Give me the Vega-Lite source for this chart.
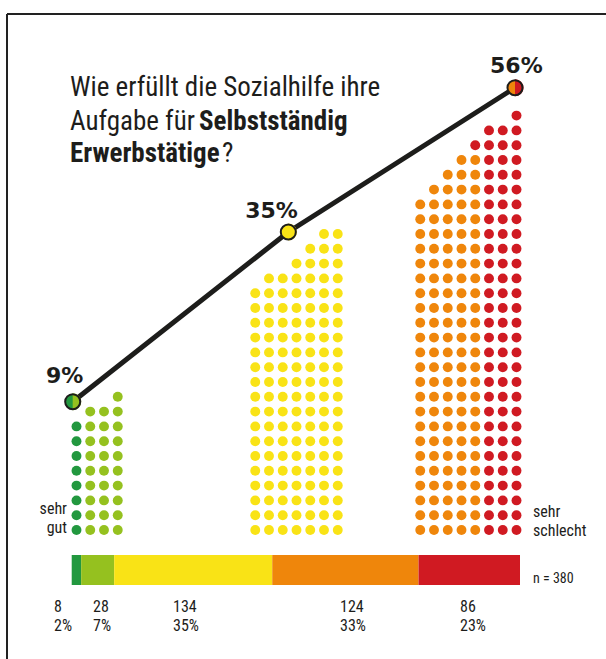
{
  "$schema": "https://vega.github.io/schema/vega-lite/v6.json",
  "width": 606,
  "height": 659,
  "padding": 0,
  "autosize": {"type": "none"},
  "background": "#ffffff",
  "config": {"view": {"stroke": null}, "font": "Liberation Sans Narrow, Roboto Condensed, DejaVu Sans Condensed, Roboto, Liberation Sans"},
  "datasets": {
    "dots": [
      {"g": "sehr gut", "c": 0, "r": [0,1,2,3,4,5,6,7]},
      {"g": "gut", "c": 1, "r": [0,1,2,3,4,5,6,7,8]},
      {"g": "gut", "c": 2, "r": [0,1,2,3,4,5,6,7,8]},
      {"g": "gut", "c": 3, "r": [0,1,2,3,4,5,6,7,8,9]},
      {"g": "neutral", "c": 13, "r": [0,1,2,3,4,5,6,7,8,9,10,11,12,13,14,15,16]},
      {"g": "neutral", "c": 14, "r": [0,1,2,3,4,5,6,7,8,9,10,11,12,13,14,15,16,17]},
      {"g": "neutral", "c": 15, "r": [0,1,2,3,4,5,6,7,8,9,10,11,12,13,14,15,16,17]},
      {"g": "neutral", "c": 16, "r": [0,1,2,3,4,5,6,7,8,9,10,11,12,13,14,15,16,17,18]},
      {"g": "neutral", "c": 17, "r": [0,1,2,3,4,5,6,7,8,9,10,11,12,13,14,15,16,17,18,19]},
      {"g": "neutral", "c": 18, "r": [0,1,2,3,4,5,6,7,8,9,10,11,12,13,14,15,16,17,18,19,20]},
      {"g": "neutral", "c": 19, "r": [0,1,2,3,4,5,6,7,8,9,10,11,12,13,14,15,16,17,18,19,20]},
      {"g": "schlecht", "c": 25, "r": [0,1,2,3,4,5,6,7,8,9,10,11,12,13,14,15,16,17,18,19,20,21,22]},
      {"g": "schlecht", "c": 26, "r": [0,1,2,3,4,5,6,7,8,9,10,11,12,13,14,15,16,17,18,19,20,21,22,23]},
      {"g": "schlecht", "c": 27, "r": [0,1,2,3,4,5,6,7,8,9,10,11,12,13,14,15,16,17,18,19,20,21,22,23,24]},
      {"g": "schlecht", "c": 28, "r": [0,1,2,3,4,5,6,7,8,9,10,11,12,13,14,15,16,17,18,19,20,21,22,23,24,25]},
      {"g": "schlecht", "c": 29, "r": [0,1,2,3,4,5,6,7,8,9,10,11,12,13,14,15,16,17,18,19,20,21,22,23,24,25]},
      {"g": "sehr schlecht", "c": 29, "r": [26]},
      {"g": "sehr schlecht", "c": 30, "r": [0,1,2,3,4,5,6,7,8,9,10,11,12,13,14,15,16,17,18,19,20,21,22,23,24,25,26,27]},
      {"g": "sehr schlecht", "c": 31, "r": [0,1,2,3,4,5,6,7,8,9,10,11,12,13,14,15,16,17,18,19,20,21,22,23,24,25,26,27]},
      {"g": "sehr schlecht", "c": 32, "r": [0,1,2,3,4,5,6,7,8,9,10,11,12,13,14,15,16,17,18,19,20,21,22,23,24,25,26,27,28]}
    ],
    "trend": [
      {"c": -0.276, "r": 8.669, "left": "sehr gut", "right": "gut"},
      {"c": 15.404, "r": 20.135, "left": "neutral", "right": "neutral"},
      {"c": 31.891, "r": 29.885, "left": "schlecht", "right": "sehr schlecht"}
    ],
    "pctLabels": [
      {"c": -0.865, "r": 9.932, "t": "9%"},
      {"c": 14.18, "r": 21.08, "t": "35%"},
      {"c": 31.99, "r": 30.88, "t": "56%"}
    ],
    "titleRegular": [
      {"c": -0.473, "r": 29.324, "t": "Wie erfüllt die Sozialhilfe ihre"},
      {"c": -0.473, "r": 27.027, "t": "Aufgabe für"},
      {"c": 10.58, "r": 24.865, "t": "?"}
    ],
    "titleBold": [
      {"c": 8.909, "r": 27.027, "t": "Selbstständig"},
      {"c": -0.473, "r": 24.865, "t": "Erwerbstätige"}
    ],
    "leftLabel": [
      {"c": -0.691, "r": 1.081, "t": "sehr"},
      {"c": -0.691, "r": -0.203, "t": "gut"}
    ],
    "rightLabel": [
      {"c": 33.2, "r": 0.878, "t": "sehr"},
      {"c": 33.2, "r": -0.405, "t": "schlecht"}
    ],
    "nLabel": [{"c": 33.2, "r": -3.581, "t": "n = 380"}],
    "countLabels": [
      {"c": -1.636, "r": -5.541, "t": "8"},
      {"c": -1.636, "r": -6.824, "t": "2%"},
      {"c": 1.2, "r": -5.541, "t": "28"},
      {"c": 1.2, "r": -6.824, "t": "7%"},
      {"c": 7.018, "r": -5.541, "t": "134"},
      {"c": 7.018, "r": -6.824, "t": "35%"},
      {"c": 19.164, "r": -5.541, "t": "124"},
      {"c": 19.164, "r": -6.824, "t": "33%"},
      {"c": 27.891, "r": -5.541, "t": "86"},
      {"c": 27.891, "r": -6.824, "t": "23%"}
    ],
    "counts": [
      {"g": "sehr gut", "n": 8, "o": 1},
      {"g": "gut", "n": 28, "o": 2},
      {"g": "neutral", "n": 134, "o": 3},
      {"g": "schlecht", "n": 124, "o": 4},
      {"g": "sehr schlecht", "n": 86, "o": 5}
    ]
  },
  "resolve": {"scale": {"x": "independent"}},
  "layer": [
    {
      "layer": [
        {
          "data": {"values": [{}]},
          "mark": {"type": "rule", "color": "#222222", "strokeWidth": 2},
          "encoding": {
            "x": {"datum": -5.0545, "type": "quantitative", "scale": {"domain": [-5.5636, 38.5091], "nice": false, "zero": false}, "axis": null},
            "x2": {"datum": 38.5091},
            "y": {"datum": 34.865, "type": "quantitative", "scale": {"domain": [-8.7162, 35.8108], "nice": false, "zero": false}, "axis": null}
          }
        },
        {
          "data": {"values": [{}]},
          "mark": {"type": "rule", "color": "#222222", "strokeWidth": 2},
          "encoding": {
            "x": {"datum": -5.0545, "type": "quantitative", "scale": {"domain": [-5.5636, 38.5091], "nice": false, "zero": false}, "axis": null},
            "y": {"datum": 34.865, "type": "quantitative", "scale": {"domain": [-8.7162, 35.8108], "nice": false, "zero": false}, "axis": null},
            "y2": {"datum": -8.7162}
          }
        },
        {
          "data": {"name": "dots"},
          "transform": [{"flatten": ["r"]}],
          "mark": {"type": "point", "shape": "circle", "filled": true, "opacity": 1, "size": 98},
          "encoding": {
            "x": {"field": "c", "type": "quantitative", "scale": {"domain": [-5.5636, 38.5091], "nice": false, "zero": false}, "axis": null},
            "y": {"field": "r", "type": "quantitative", "scale": {"domain": [-8.7162, 35.8108], "nice": false, "zero": false}, "axis": null},
            "color": {"field": "g", "type": "nominal", "scale": {"domain": ["sehr gut", "gut", "neutral", "schlecht", "sehr schlecht"], "range": ["#22983f", "#95c11f", "#f9e316", "#ef860b", "#d01a22"]}, "legend": null}
          }
        },
        {
          "data": {"name": "trend"},
          "mark": {"type": "line", "color": "#1d1d1b", "strokeWidth": 5},
          "encoding": {
            "x": {"field": "c", "type": "quantitative", "scale": {"domain": [-5.5636, 38.5091], "nice": false, "zero": false}, "axis": null},
            "y": {"field": "r", "type": "quantitative", "scale": {"domain": [-8.7162, 35.8108], "nice": false, "zero": false}, "axis": null}
          }
        },
        {
          "data": {"name": "trend"},
          "mark": {"type": "point", "shape": "circle", "filled": true, "opacity": 1, "size": 227},
          "encoding": {
            "x": {"field": "c", "type": "quantitative", "scale": {"domain": [-5.5636, 38.5091], "nice": false, "zero": false}, "axis": null},
            "y": {"field": "r", "type": "quantitative", "scale": {"domain": [-8.7162, 35.8108], "nice": false, "zero": false}, "axis": null},
            "color": {"field": "left", "type": "nominal", "legend": null}
          }
        },
        {
          "data": {"name": "trend"},
          "mark": {"type": "point", "shape": "M0,-1 A1,1 0 0 1 0,1 Z", "filled": true, "opacity": 1, "size": 289},
          "encoding": {
            "x": {"field": "c", "type": "quantitative", "scale": {"domain": [-5.5636, 38.5091], "nice": false, "zero": false}, "axis": null},
            "y": {"field": "r", "type": "quantitative", "scale": {"domain": [-8.7162, 35.8108], "nice": false, "zero": false}, "axis": null},
            "color": {"field": "right", "type": "nominal", "legend": null}
          }
        },
        {
          "data": {"name": "trend"},
          "mark": {"type": "point", "shape": "circle", "filled": false, "opacity": 1, "size": 227, "stroke": "#1d1d1b", "strokeWidth": 2},
          "encoding": {
            "x": {"field": "c", "type": "quantitative", "scale": {"domain": [-5.5636, 38.5091], "nice": false, "zero": false}, "axis": null},
            "y": {"field": "r", "type": "quantitative", "scale": {"domain": [-8.7162, 35.8108], "nice": false, "zero": false}, "axis": null}
          }
        },
        {
          "data": {"name": "pctLabels"},
          "mark": {"type": "text", "font": "DejaVu Sans", "fontWeight": "bold", "fontSize": 22, "align": "center", "baseline": "alphabetic", "color": "#1d1d1b"},
          "encoding": {
            "x": {"field": "c", "type": "quantitative", "scale": {"domain": [-5.5636, 38.5091], "nice": false, "zero": false}, "axis": null},
            "y": {"field": "r", "type": "quantitative", "scale": {"domain": [-8.7162, 35.8108], "nice": false, "zero": false}, "axis": null},
            "text": {"field": "t", "type": "nominal"}
          }
        },
        {
          "data": {"name": "titleRegular"},
          "mark": {"type": "text", "fontSize": 27, "align": "left", "baseline": "alphabetic", "color": "#1d1d1b"},
          "encoding": {
            "x": {"field": "c", "type": "quantitative", "scale": {"domain": [-5.5636, 38.5091], "nice": false, "zero": false}, "axis": null},
            "y": {"field": "r", "type": "quantitative", "scale": {"domain": [-8.7162, 35.8108], "nice": false, "zero": false}, "axis": null},
            "text": {"field": "t", "type": "nominal"}
          }
        },
        {
          "data": {"name": "titleBold"},
          "mark": {"type": "text", "fontSize": 27, "fontWeight": "bold", "align": "left", "baseline": "alphabetic", "color": "#1d1d1b"},
          "encoding": {
            "x": {"field": "c", "type": "quantitative", "scale": {"domain": [-5.5636, 38.5091], "nice": false, "zero": false}, "axis": null},
            "y": {"field": "r", "type": "quantitative", "scale": {"domain": [-8.7162, 35.8108], "nice": false, "zero": false}, "axis": null},
            "text": {"field": "t", "type": "nominal"}
          }
        },
        {
          "data": {"name": "leftLabel"},
          "mark": {"type": "text", "fontSize": 16, "align": "right", "baseline": "alphabetic", "color": "#1d1d1b"},
          "encoding": {
            "x": {"field": "c", "type": "quantitative", "scale": {"domain": [-5.5636, 38.5091], "nice": false, "zero": false}, "axis": null},
            "y": {"field": "r", "type": "quantitative", "scale": {"domain": [-8.7162, 35.8108], "nice": false, "zero": false}, "axis": null},
            "text": {"field": "t", "type": "nominal"}
          }
        },
        {
          "data": {"name": "rightLabel"},
          "mark": {"type": "text", "fontSize": 16, "align": "left", "baseline": "alphabetic", "color": "#1d1d1b"},
          "encoding": {
            "x": {"field": "c", "type": "quantitative", "scale": {"domain": [-5.5636, 38.5091], "nice": false, "zero": false}, "axis": null},
            "y": {"field": "r", "type": "quantitative", "scale": {"domain": [-8.7162, 35.8108], "nice": false, "zero": false}, "axis": null},
            "text": {"field": "t", "type": "nominal"}
          }
        },
        {
          "data": {"name": "nLabel"},
          "mark": {"type": "text", "fontSize": 14, "align": "left", "baseline": "alphabetic", "color": "#1d1d1b"},
          "encoding": {
            "x": {"field": "c", "type": "quantitative", "scale": {"domain": [-5.5636, 38.5091], "nice": false, "zero": false}, "axis": null},
            "y": {"field": "r", "type": "quantitative", "scale": {"domain": [-8.7162, 35.8108], "nice": false, "zero": false}, "axis": null},
            "text": {"field": "t", "type": "nominal"}
          }
        },
        {
          "data": {"name": "countLabels"},
          "mark": {"type": "text", "fontSize": 16, "align": "left", "baseline": "alphabetic", "color": "#1d1d1b"},
          "encoding": {
            "x": {"field": "c", "type": "quantitative", "scale": {"domain": [-5.5636, 38.5091], "nice": false, "zero": false}, "axis": null},
            "y": {"field": "r", "type": "quantitative", "scale": {"domain": [-8.7162, 35.8108], "nice": false, "zero": false}, "axis": null},
            "text": {"field": "t", "type": "nominal"}
          }
        }
      ]
    },
    {
      "data": {"name": "counts"},
      "transform": [{"stack": "n", "groupby": [], "sort": [{"field": "o", "order": "ascending"}], "as": ["n0", "n1"]}],
      "mark": {"type": "rect"},
      "encoding": {
        "x": {"field": "n0", "type": "quantitative", "scale": {"domain": [-60.78, 452.9], "nice": false, "zero": false}, "axis": null},
        "x2": {"field": "n1"},
        "y": {"datum": -1.689, "type": "quantitative", "scale": {"domain": [-8.7162, 35.8108], "nice": false, "zero": false}, "axis": null},
        "y2": {"datum": -3.716},
        "color": {"field": "g", "type": "nominal", "legend": null}
      }
    }
  ]
}
